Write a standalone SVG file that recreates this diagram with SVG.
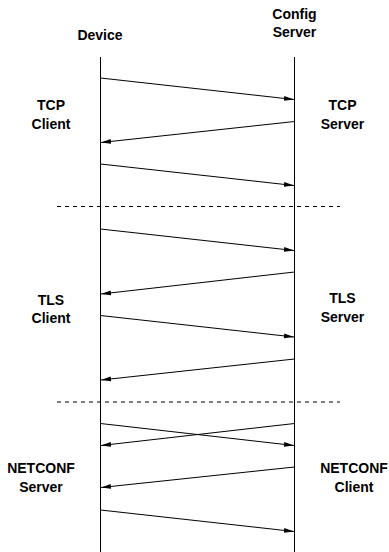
<svg xmlns="http://www.w3.org/2000/svg" width="389" height="552" viewBox="0 0 389 552">
  <style>
    .lbl { font-family: "Liberation Sans", Arial, sans-serif; font-weight: bold; font-size: 14px; fill: #000; text-anchor: middle; }
    .life { stroke: #000; stroke-width: 1; fill: none; }
    .msg { stroke: #000; stroke-width: 1; fill: none; marker-end: url(#head); }
    .sep { stroke: #000; stroke-width: 1; stroke-dasharray: 4 4; fill: none; }
  </style>
  <defs>
    <marker id="head" viewBox="0 0 10 6" refX="10" refY="3" markerWidth="10" markerHeight="6" markerUnits="userSpaceOnUse" orient="auto">
      <path d="M0,0.6 L10,3 L0,5.4 Z" fill="#000"/>
    </marker>
  </defs>
  <rect width="389" height="552" fill="#fff"/>

  <!-- participants -->
  <g id="device">
    <text class="lbl" x="100" y="40">Device</text>
    <line class="life" x1="100.5" y1="57" x2="100.5" y2="552"/>
  </g>
  <g id="config-server">
    <text class="lbl" x="294.5" y="19">Config</text>
    <text class="lbl" x="294.5" y="36.5">Server</text>
    <line class="life" x1="294.5" y1="57" x2="294.5" y2="552"/>
  </g>

  <!-- role labels -->
  <g id="tcp-client"><text class="lbl" x="51" y="110">TCP</text><text class="lbl" x="51" y="129">Client</text></g>
  <g id="tcp-server"><text class="lbl" x="342.5" y="110">TCP</text><text class="lbl" x="342.5" y="129">Server</text></g>
  <g id="tls-client"><text class="lbl" x="51" y="304.5">TLS</text><text class="lbl" x="51" y="323">Client</text></g>
  <g id="tls-server"><text class="lbl" x="342.5" y="303">TLS</text><text class="lbl" x="342.5" y="321.5">Server</text></g>
  <g id="netconf-server"><text class="lbl" x="41" y="473">NETCONF</text><text class="lbl" x="41" y="491.5">Server</text></g>
  <g id="netconf-client"><text class="lbl" x="354" y="473">NETCONF</text><text class="lbl" x="354" y="491.5">Client</text></g>

  <!-- messages and phase separators -->
  <g id="connectors">
    <line class="msg" x1="100.5" y1="78" x2="294" y2="99.5"/>
    <line class="msg" x1="294.5" y1="121.5" x2="101" y2="142.5"/>
    <line class="msg" x1="100.5" y1="164" x2="294" y2="185.5"/>

    <line class="sep" x1="57" y1="206.5" x2="340" y2="206.5"/>

    <line class="msg" x1="100.5" y1="229" x2="294" y2="250.5"/>
    <line class="msg" x1="294.5" y1="272" x2="101" y2="294"/>
    <line class="msg" x1="100.5" y1="315.5" x2="294" y2="337"/>
    <line class="msg" x1="294.5" y1="359" x2="101" y2="380"/>

    <line class="sep" x1="57" y1="402" x2="340" y2="402"/>

    <line class="msg" x1="100.5" y1="423.5" x2="294" y2="445.5"/>
    <line class="msg" x1="294.5" y1="423.5" x2="101" y2="445.5"/>
    <line class="msg" x1="294.5" y1="467" x2="101" y2="487.5"/>
    <line class="msg" x1="100.5" y1="510" x2="294" y2="531.5"/>
  </g>
</svg>
